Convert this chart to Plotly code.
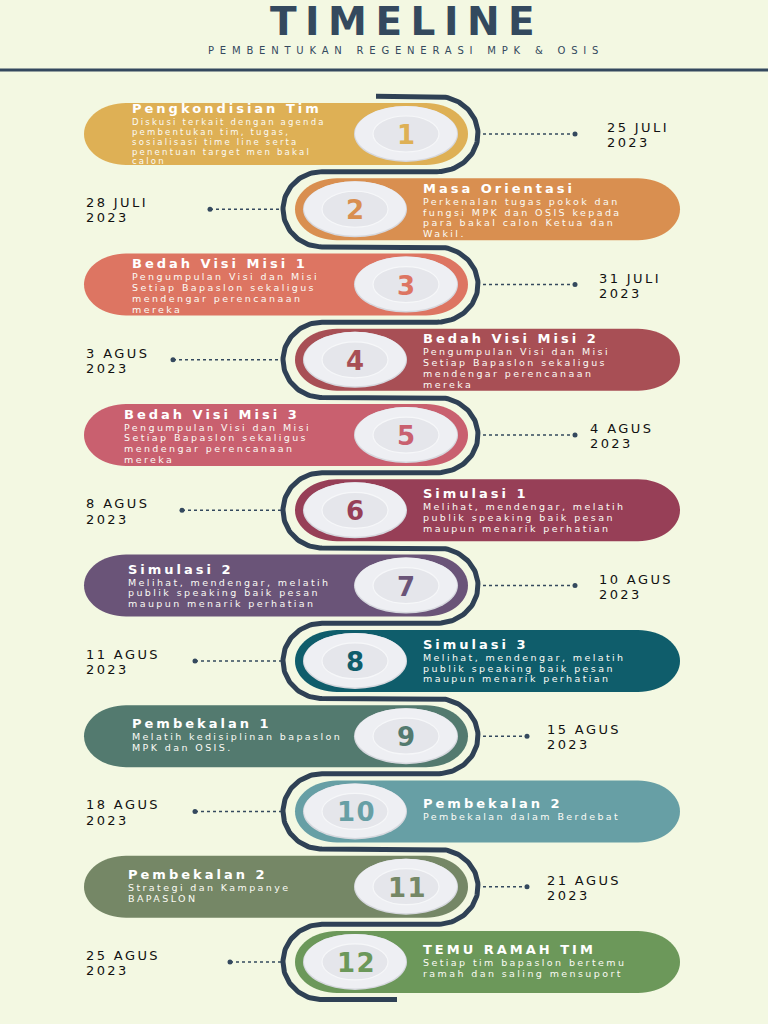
import math
import plotly.graph_objects as go

# ---------------- DATA ----------------
main_title = "TIMELINE"
subtitle = "PEMBENTUKAN REGENERASI MPK & OSIS"

step_numbers = ["1", "2", "3", "4", "5", "6", "7", "8", "9", "10", "11", "12"]

step_titles = [
    "Pengkondisian Tim", "Masa Orientasi", "Bedah Visi Misi 1", "Bedah Visi Misi 2",
    "Bedah Visi Misi 3", "Simulasi 1", "Simulasi 2", "Simulasi 3",
    "Pembekalan 1", "Pembekalan 2", "Pembekalan 2", "TEMU RAMAH TIM",
]

step_descriptions = [
    ["Diskusi terkait dengan agenda", "pembentukan tim, tugas,", "sosialisasi time line serta",
     "penentuan target men bakal", "calon"],
    ["Perkenalan tugas pokok dan", "fungsi MPK dan OSIS kepada", "para bakal calon Ketua dan", "Wakil."],
    ["Pengumpulan Visi dan Misi", "Setiap Bapaslon sekaligus", "mendengar perencanaan", "mereka"],
    ["Pengumpulan Visi dan Misi", "Setiap Bapaslon sekaligus", "mendengar perencanaan", "mereka"],
    ["Pengumpulan Visi dan Misi", "Setiap Bapaslon sekaligus", "mendengar perencanaan", "mereka"],
    ["Melihat, mendengar, melatih", "publik speaking baik pesan", "maupun menarik perhatian"],
    ["Melihat, mendengar, melatih", "publik speaking baik pesan", "maupun menarik perhatian"],
    ["Melihat, mendengar, melatih", "publik speaking baik pesan", "maupun menarik perhatian"],
    ["Melatih kedisiplinan bapaslon", "MPK dan OSIS."],
    ["Pembekalan dalam Berdebat"],
    ["Strategi dan Kampanye", "BAPASLON"],
    ["Setiap tim bapaslon bertemu", "ramah dan saling mensuport"],
]

date_days = ["25 JULI", "28 JULI", "31 JULI", "3 AGUS", "4 AGUS", "8 AGUS",
             "10 AGUS", "11 AGUS", "15 AGUS", "18 AGUS", "21 AGUS", "25 AGUS"]
date_years = ["2023"] * 12

step_colors = ["#deb055", "#d98f50", "#dd7562", "#a84f55", "#c9606f", "#973f57",
               "#6a5478", "#0f5d6b", "#537a6f", "#679fa5", "#758766", "#6c985a"]

# ---------------- LAYOUT / STYLE ----------------
W, H = 768, 1024
BG = "#f3f8e2"
DARK = "#34495e"
SNAKE = "#2f4155"
Y_FIRST, Y_STEP = 134, 75.27
R_SNAKE = Y_STEP / 2

ODD_PILL = (84, 468)
EVEN_PILL = (295, 680)
PILL_H = 31
PILL_RX = 42
ODD_CIRCLE_X, EVEN_CIRCLE_X = 406, 355
RIGHT_ARC_CX, RIGHT_ARC_RX = 437, 41
LEFT_ARC_CX, LEFT_ARC_RX = 322, 39

odd_title_x = [130, 130, 122, 126, 130, 126]
EVEN_TITLE_X = 421
date_text_x = [605, 84, 597, 84, 588, 84, 597, 84, 545, 84, 545, 84]
dot_x = [575, 210, 575, 173, 575, 182, 575, 195, 527, 195, 527, 230]

FONT = "DejaVu Sans"


def ls(text, px):
    return f'<span style="letter-spacing:{px}px">{text}</span>'


def pill_path(x0, x1, yc, h, rx):
    k = 0.5523
    a = x0 + rx
    b = x1 - rx
    return (f"M {a},{yc-h} L {b},{yc-h} "
            f"C {b+k*rx},{yc-h} {x1},{yc-k*h} {x1},{yc} "
            f"C {x1},{yc+k*h} {b+k*rx},{yc+h} {b},{yc+h} "
            f"L {a},{yc+h} "
            f"C {a-k*rx},{yc+h} {x0},{yc+k*h} {x0},{yc} "
            f"C {x0},{yc-k*h} {a-k*rx},{yc-h} {a},{yc-h} Z")


fig = go.Figure()
shapes = []
annotations = []

n = len(step_numbers)
row_y = [Y_FIRST + i * Y_STEP for i in range(n)]

# header
annotations.append(dict(x=406, y=21.5, text=ls(f"<b>{main_title}</b>", 8.5), showarrow=False,
                        font=dict(family=FONT, size=39, color=DARK), xanchor="center", yanchor="middle"))
annotations.append(dict(x=406, y=50, text=ls(subtitle, 5.8), showarrow=False,
                        font=dict(family=FONT, size=10, color=DARK), xanchor="center", yanchor="middle"))
shapes.append(dict(type="line", x0=0, x1=W, y0=70, y1=70, line=dict(color=DARK, width=3), layer="below"))

# snake path
sx, sy = [376], [row_y[0] - R_SNAKE]
for i, yc in enumerate(row_y):
    right = (i % 2 == 0)
    cx = RIGHT_ARC_CX if right else LEFT_ARC_CX
    rx = RIGHT_ARC_RX if right else LEFT_ARC_RX
    sgn = 1 if right else -1
    for t in range(0, 61):
        ang = -math.pi / 2 + math.pi * t / 60
        sx.append(cx + sgn * rx * math.cos(ang))
        sy.append(yc + R_SNAKE * math.sin(ang))
sx.append(397)
sy.append(row_y[-1] + R_SNAKE)

for i, yc in enumerate(row_y):
    odd = (i % 2 == 0)
    col = step_colors[i]
    x0, x1 = ODD_PILL if odd else EVEN_PILL
    shapes.append(dict(type="path", path=pill_path(x0, x1, yc, PILL_H, PILL_RX),
                       fillcolor=col, line=dict(width=0), layer="below"))
    cx = ODD_CIRCLE_X if odd else EVEN_CIRCLE_X
    # neumorphic circle
    shapes.append(dict(type="circle", x0=cx - 52, x1=cx + 52, y0=yc - 28, y1=yc + 28,
                       fillcolor="#d6d8de", line=dict(width=0), layer="below"))
    shapes.append(dict(type="circle", x0=cx - 51, x1=cx + 51, y0=yc - 28, y1=yc + 26.5,
                       fillcolor="#eeeff3", line=dict(width=0), layer="below"))
    shapes.append(dict(type="circle", x0=cx - 33, x1=cx + 33, y0=yc - 18, y1=yc + 18,
                       fillcolor="#e5e6eb", line=dict(color="#f6f7f9", width=1.2), layer="below"))
    annotations.append(dict(x=cx + 1, y=yc + 1, text=ls(f"<b>{step_numbers[i]}</b>", 1.5), showarrow=False,
                            font=dict(family=FONT, size=26, color=col), xanchor="center", yanchor="middle"))

    # texts
    desc = step_descriptions[i]
    nd = len(desc)
    if nd >= 5:
        dfs, dsp, dls = 8.5, 9.9, 2.2
    else:
        dfs, dsp, dls = 9.5, 10.8, 2.4
    tx = odd_title_x[i // 2] if odd else EVEN_TITLE_X
    ty = yc - (8 + 4.3 * (nd - 1))
    annotations.append(dict(x=tx, y=ty, text=ls(f"<b>{step_titles[i]}</b>", 3), showarrow=False,
                            font=dict(family=FONT, size=13, color="white"), xanchor="left", yanchor="middle"))
    for j, line in enumerate(desc):
        annotations.append(dict(x=tx, y=ty + 13 + j * dsp, text=ls(line, dls), showarrow=False,
                                font=dict(family=FONT, size=dfs, color="#fbfbf5"),
                                xanchor="left", yanchor="middle"))

    # date connector
    if odd:
        lx = [483, dot_x[i]]
    else:
        lx = [dot_x[i], 281]
    fig.add_trace(go.Scatter(x=lx, y=[yc, yc], mode="lines", line=dict(color=DARK, width=1.5, dash="dot"),
                             hoverinfo="skip", showlegend=False))
    fig.add_trace(go.Scatter(x=[dot_x[i]], y=[yc], mode="markers", marker=dict(color=DARK, size=5),
                             hoverinfo="skip", showlegend=False))
    annotations.append(dict(x=date_text_x[i], y=yc - 6.5, text=ls(date_days[i], 2.4), showarrow=False,
                            font=dict(family=FONT, size=13, color="#111111"), xanchor="left", yanchor="middle"))
    annotations.append(dict(x=date_text_x[i], y=yc + 8.7, text=ls(date_years[i], 2.4), showarrow=False,
                            font=dict(family=FONT, size=13, color="#111111"), xanchor="left", yanchor="middle"))

fig.add_trace(go.Scatter(x=sx, y=sy, mode="lines", line=dict(color=SNAKE, width=5),
                         hoverinfo="skip", showlegend=False))

fig.update_layout(
    width=W, height=H, autosize=False,
    margin=dict(l=0, r=0, t=0, b=0),
    paper_bgcolor=BG, plot_bgcolor=BG,
    xaxis=dict(range=[0, W], visible=False, fixedrange=True),
    yaxis=dict(range=[H, 0], visible=False, fixedrange=True),
    shapes=shapes, annotations=annotations, showlegend=False,
)

fig.write_html("out.html", config={"displayModeBar": False},
               post_script="document.body.style.margin='0px';document.body.style.overflow='hidden';")
